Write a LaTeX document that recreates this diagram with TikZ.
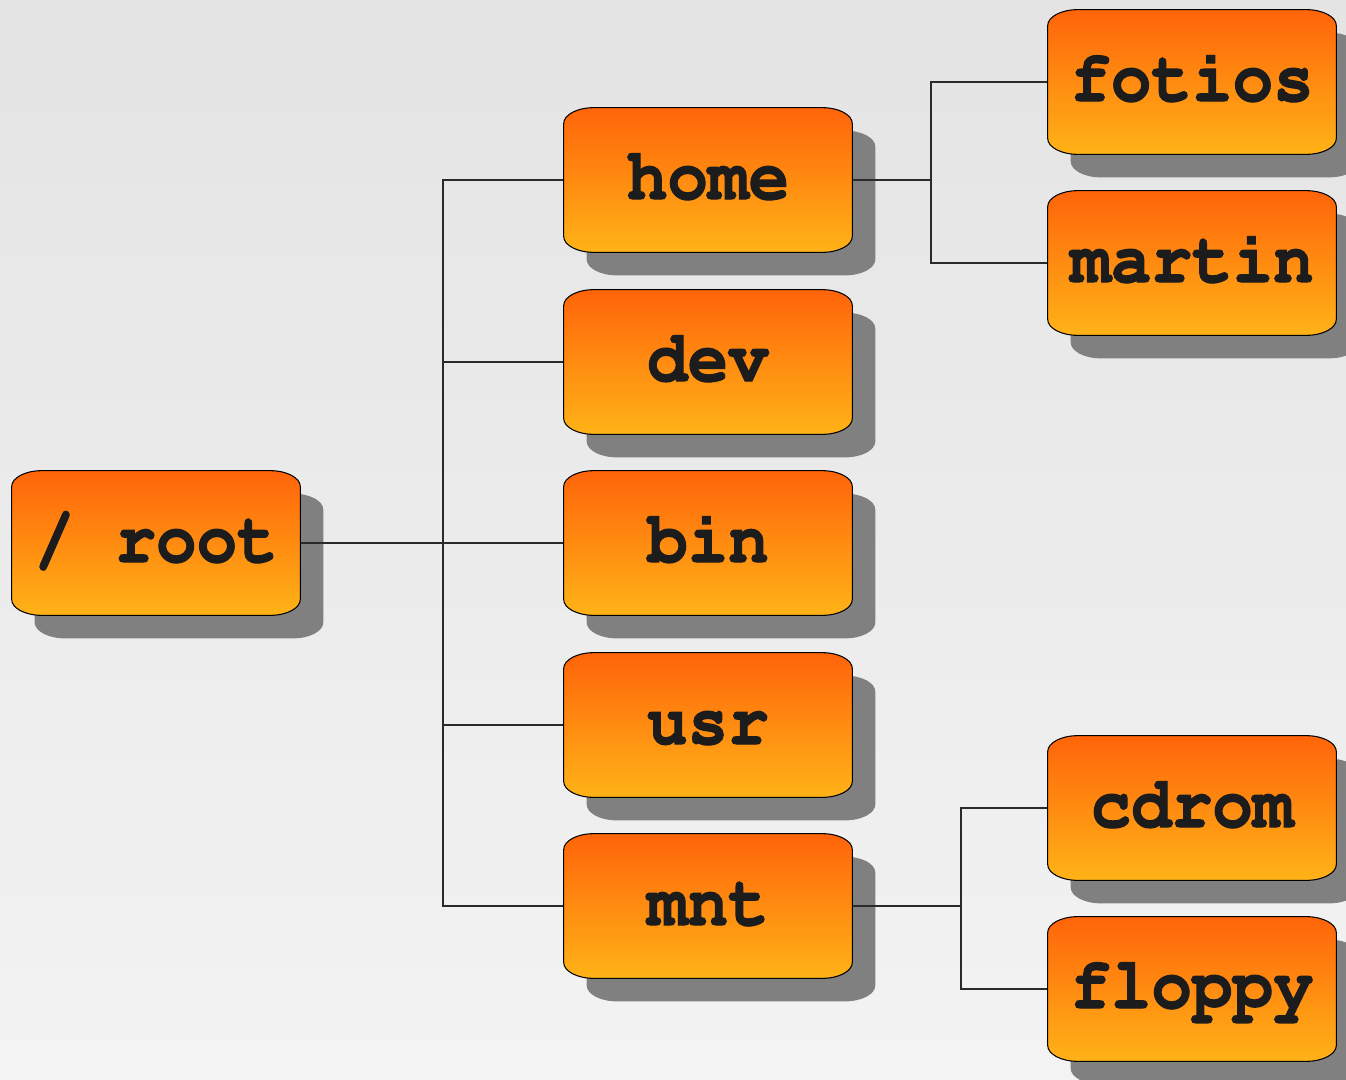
\documentclass[tikz,border=0pt]{standalone}
\usepackage[T1,TU]{fontenc}
\usepackage{graphicx}
\definecolor{bgA}{HTML}{EDEDED}
\definecolor{bgB}{HTML}{F7F7F7}
\definecolor{bgC}{HTML}{E0E0E0}
\definecolor{bgD}{HTML}{E9E9E9}
\definecolor{boxtop}{HTML}{FF640A}
\definecolor{boxbot}{HTML}{FFB317}
\definecolor{shadowgray}{HTML}{808080}
\definecolor{textdark}{HTML}{1C1C1C}
\definecolor{linedark}{HTML}{2A2A2A}
\pgfdeclareverticalshading{bgshade}{100bp}{color(0bp)=(bgA); color(4bp)=(bgB); color(12bp)=(bgB); color(88bp)=(bgC); color(100bp)=(bgD)}
\pgfdeclarelayer{bglayer}
\pgfdeclarelayer{shadowlayer}
\pgfdeclarelayer{connlayer}
\pgfdeclarelayer{boxlayer}
\pgfsetlayers{bglayer,shadowlayer,connlayer,boxlayer,main}
\newcommand\fsfont{\fontencoding{T1}\fontfamily{pcr}\fontseries{b}\fontshape{n}\fontsize{38.5}{40}\selectfont}
\newcommand\fstext[1]{\scalebox{1}[1.08]{\special{pdf:literal direct 2 Tr 0.6 w}#1\special{pdf:literal direct 0 Tr}}}
\newcommand\fspath[1]{([xshift=0.6cm]#1.north west) -- ([xshift=-0.6cm]#1.north east)
  arc[start angle=90,end angle=0,x radius=0.6cm,y radius=0.32cm]
  -- ([yshift=0.32cm]#1.south east)
  arc[start angle=0,end angle=-90,x radius=0.6cm,y radius=0.32cm]
  -- ([xshift=0.6cm]#1.south west)
  arc[start angle=270,end angle=180,x radius=0.6cm,y radius=0.32cm]
  -- ([yshift=-0.32cm]#1.north west)
  arc[start angle=180,end angle=90,x radius=0.6cm,y radius=0.32cm] -- cycle}
\newcommand\fsdecor[1]{%
  \begin{pgfonlayer}{shadowlayer}
    \fill[shadowgray, transform canvas={xshift=0.46cm,yshift=-0.46cm}] \fspath{#1};
  \end{pgfonlayer}
  \begin{pgfonlayer}{boxlayer}
    \path[top color=boxtop, bottom color=boxbot, draw=black, line width=0.6pt] \fspath{#1};
  \end{pgfonlayer}}
\tikzset{
  fsnode/.style={minimum width=5.76cm, minimum height=2.88cm, inner sep=0pt,
    text height=0.76cm, text depth=0pt, text=textdark, font=\fsfont},
  conn/.style={draw=linedark, line width=0.6pt}
}
\begin{document}
\begin{tikzpicture}[x=0.02cm, y=-0.02cm]
\useasboundingbox (0,0) rectangle (1346,1079);
\begin{pgfonlayer}{bglayer}
  \shade[shading=bgshade] (0,0) rectangle (1346,1079);
\end{pgfonlayer}

\node[fsnode] (root)   at (156,543)  {\fstext{/ root}};
\node[fsnode] (home)   at (708,180)  {\fstext{home}};
\node[fsnode] (dev)    at (708,362)  {\fstext{dev}};
\node[fsnode] (bin)    at (708,543)  {\fstext{bin}};
\node[fsnode] (usr)    at (708,725)  {\fstext{usr}};
\node[fsnode] (mnt)    at (708,906)  {\fstext{mnt}};
\node[fsnode] (fotios) at (1192,82)  {\fstext{fotios}};
\node[fsnode] (martin) at (1192,263) {\fstext{martin}};
\node[fsnode] (cdrom)  at (1192,808) {\fstext{cdrom}};
\node[fsnode] (floppy) at (1192,989) {\fstext{floppy}};

\foreach \n in {root,home,dev,bin,usr,mnt,fotios,martin,cdrom,floppy}{\fsdecor{\n}}

\coordinate (j1) at (443,543);
\coordinate (j2) at (931,180);
\coordinate (j3) at (961,906);
\begin{pgfonlayer}{connlayer}
  \draw[conn, line width=0.9pt] (root.east) -- (j1);
  \draw[conn] (j1) |- (home.west);
  \draw[conn] (j1) |- (dev.west);
  \draw[conn] (j1) -- (bin.west);
  \draw[conn] (j1) |- (usr.west);
  \draw[conn] (j1) |- (mnt.west);
  \draw[conn] (home.east) -- (j2);
  \draw[conn] (j2) |- (fotios.west);
  \draw[conn] (j2) |- (martin.west);
  \draw[conn] (mnt.east) -- (j3);
  \draw[conn] (j3) |- (cdrom.west);
  \draw[conn] (j3) |- (floppy.west);
\end{pgfonlayer}
\end{tikzpicture}
\end{document}
